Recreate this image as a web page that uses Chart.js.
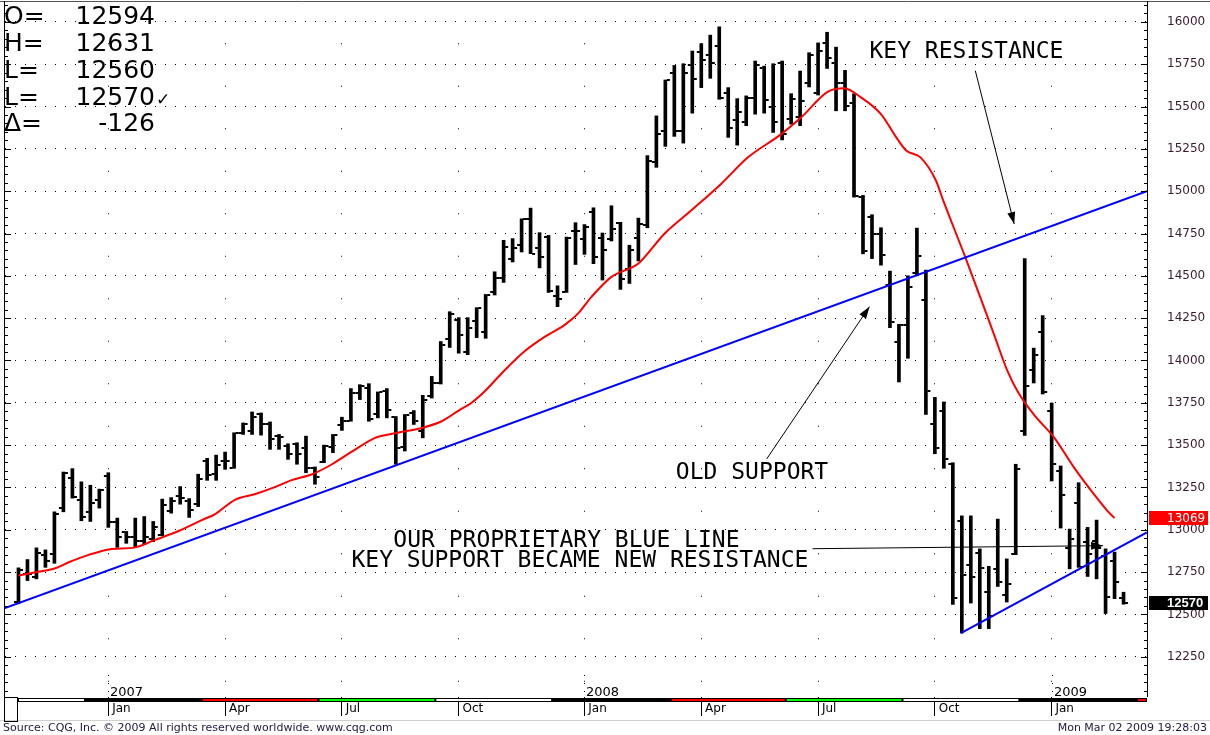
<!DOCTYPE html>
<html>
<head>
<meta charset="utf-8">
<script src="https://cdn.jsdelivr.net/npm/chart.js@4.4.1/dist/chart.umd.min.js"></script>
<style>
  html, body { margin: 0; padding: 0; background: #fff; }
  #wrap { width: 1210px; height: 735px; }
</style>
</head>
<body>
<div id="wrap"><canvas id="myChart" width="1210" height="735"></canvas></div>
<script>
// weekly bars, one per week from Oct 23 2006 to Mar 02 2009 (index = week number)
var opens = [
  12573, 12736, 12721, 12853, 12859, 13126, 13308, 13178, 13102, 13178,
  13318, 13043, 12984, 12959, 12935, 12945, 12971, 13112, 13200, 13171,
  13151, 13406, 13328, 13406, 13367, 13569, 13583, 13681, 13622, 13553,
  13494, 13504, 13481, 13365, 13402, 13488, 13618, 13645, 13808, 13837,
  13682, 13818, 13665, 13488, 13688, 13582, 13788, 13865, 14124, 14241,
  14053, 14234, 14171, 14402, 14488, 14602, 14681, 14835, 14665, 14729,
  14382, 14406, 14765, 14720, 14877, 14724, 14720, 14812, 14543, 14724,
  14800, 15171, 15357, 15700, 15357, 15743, 15822, 15802, 15857, 15582,
  15418, 15410, 15549, 15729, 15498, 15759, 15429, 15441, 15637, 15582,
  15876, 15759, 15641, 15524, 14965, 14847, 14749, 14445, 14112, 14210,
  14514, 14357, 13625, 13700, 13390, 13053, 12793, 12861, 12631, 12769,
  12612, 12857, 13583, 13946, 14171, 13700, 13347, 12890, 13161, 12926,
  12935, 12847, 12818, 12594
];
var highs = [
  12775, 12824, 12893, 12881, 13106, 13341, 13361, 13283, 13263, 13240,
  13337, 13069, 12990, 13069, 13078, 13049, 13181, 13190, 13255, 13184,
  13328, 13422, 13441, 13459, 13573, 13631, 13696, 13690, 13637, 13563,
  13508, 13514, 13553, 13371, 13500, 13563, 13665, 13834, 13857, 13863,
  13814, 13834, 13669, 13681, 13704, 13794, 13906, 14112, 14288, 14253,
  14253, 14312, 14390, 14524, 14710, 14720, 14837, 14900, 14755, 14739,
  14441, 14729, 14814, 14803, 14902, 14753, 14914, 14816, 14681, 14841,
  15210, 15445, 15657, 15743, 15753, 15828, 15872, 15922, 15971, 15612,
  15547, 15563, 15769, 15739, 15753, 15769, 15576, 15710, 15818, 15876,
  15939, 15851, 15714, 15576, 14975, 14861, 14784, 14528, 14214, 14500,
  14782, 14534, 13782, 13755, 13396, 13082, 13082, 12887, 12784, 13063,
  12828, 13387, 14602, 14073, 14265, 13749, 13377, 13004, 13278, 13014,
  13057, 12887, 12868, 12631
];
var lows = [
  12563, 12700, 12710, 12778, 12802, 13106, 13187, 13053, 13049, 13128,
  13014, 12896, 12920, 12900, 12912, 12930, 12965, 13098, 13151, 13073,
  13137, 13292, 13292, 13357, 13363, 13563, 13563, 13559, 13475, 13475,
  13416, 13387, 13337, 13269, 13396, 13455, 13587, 13641, 13769, 13641,
  13661, 13661, 13387, 13465, 13622, 13543, 13778, 13861, 14077, 14043,
  14034, 14135, 14131, 14387, 14461, 14582, 14641, 14631, 14547, 14402,
  14318, 14402, 14567, 14627, 14572, 14475, 14706, 14420, 14455, 14588,
  14784, 15141, 15265, 15324, 15284, 15461, 15612, 15667, 15543, 15318,
  15272, 15387, 15455, 15461, 15347, 15303, 15396, 15387, 15616, 15568,
  15725, 15475, 15475, 14965, 14630, 14602, 14563, 14194, 13873, 14013,
  14500, 13681, 13449, 13363, 12559, 12390, 12567, 12416, 12416, 12665,
  12573, 12853, 13557, 13867, 13802, 13288, 13010, 12769, 12778, 12724,
  12710, 12505, 12593, 12560
];
var closes = [
  12763, 12741, 12860, 12818, 13094, 13336, 13194, 13073, 13161, 13235,
  13043, 12955, 12955, 12935, 12955, 13018, 13145, 13167, 13190, 13116,
  13298, 13322, 13381, 13406, 13569, 13622, 13665, 13626, 13537, 13547,
  13449, 13449, 13363, 13312, 13496, 13559, 13641, 13808, 13847, 13655,
  13812, 13710, 13481, 13677, 13641, 13769, 13867, 14092, 14277, 14151,
  14190, 14308, 14388, 14488, 14671, 14665, 14834, 14631, 14612, 14410,
  14365, 14724, 14763, 14788, 14612, 14651, 14778, 14484, 14651, 14808,
  15181, 15337, 15657, 15357, 15696, 15661, 15778, 15755, 15553, 15376,
  15465, 15553, 15747, 15539, 15406, 15337, 15547, 15535, 15806, 15828,
  15788, 15641, 15504, 14969, 14646, 14749, 14625, 14225, 14212, 14435,
  14618, 13818, 13481, 13416, 12596, 12730, 12720, 12773, 12488, 12690,
  12681, 13361, 13847, 14034, 13812, 13389, 13206, 12947, 12778, 12859,
  12895, 12602, 12690, 12570
];

var maBars = [0, 1.9, 4.1, 5.6, 7.9, 10.1, 13, 15.2, 17.9, 20.4, 21.9, 24.1, 26.3, 28.6, 30.4,
  32.7, 34.9, 37.1, 39.7, 41.6, 45.2, 47.1, 49, 50.4, 51.9, 53.8, 56.3, 58.6, 60.8, 62.3,
  63.8, 66, 69, 71.9, 74.9, 78.2, 81.2, 84.9, 87.1, 90.1, 91.9, 93.8, 96, 97.7, 98.8,
  100.4, 102.1, 103, 105.3, 107.1, 108.6, 110.1, 111.2, 113, 115.3, 117.5, 119.7, 121.2, 122];
var maValues = [12730, 12749, 12773, 12808, 12853, 12884, 12896, 12940, 12994, 13057, 13093, 13177, 13210, 13253, 13293,
  13328, 13387, 13461, 13543, 13567, 13606, 13641, 13704, 13749, 13818, 13925, 14053, 14141, 14210, 14278,
  14377, 14494, 14573, 14749, 14887, 15043, 15200, 15337, 15435, 15588, 15608, 15553, 15455, 15318, 15241,
  15200, 15065, 14935, 14622, 14367, 14151, 13935, 13818, 13681, 13543, 13367, 13210, 13112, 13069];

// blue trend lines (bar position, value)
var longLineBars = [-1.5, 125.6];
var longLineValues = [12538, 15000];
var shortLineBars = [104.9, 125.6];
var shortLineValues = [12390, 12985];

// axes
var monthTicks = [10, 23, 36, 49, 63, 76, 89, 102, 115];
var monthLabels = ['Jan', 'Apr', 'Jul', 'Oct', 'Jan', 'Apr', 'Jul', 'Oct', 'Jan'];
var yearTicks = [10, 63, 115];
var yearLabels = ['2007', '2008', '2009'];
var priceTicks = [12250, 12500, 12750, 13000, 13250, 13500, 13750, 14000, 14250, 14500, 14750, 15000, 15250, 15500, 15750, 16000];
var quarterEdges = [-0.06, 7.4, 20.4, 33.4, 46.4, 59.4, 72.6, 85.4, 98.4, 111.4, 124.5, 125.6];
var quarterColors = ['#ffffff', '#000000', '#ff0000', '#00ff00', '#ffffff', '#000000', '#ff0000', '#00ff00', '#ffffff', '#000000', '#ff0000'];

// quote box, top left
var quoteNames = ['O=', 'H=', 'L=', 'L=', '\u0394='];
var quoteValues = ['12594', '12631', '12560', '12570', '-126'];
var maLast = 13069;
var lastPrice = 12570;

var weeks = opens.map(function (v, i) { return i; });

function tickImage(left) {
    var c = document.createElement('canvas');
    c.width = 11;
    c.height = 2;
    var g = c.getContext('2d');
    g.fillStyle = '#000';
    g.fillRect(left ? 1 : 7, 0, 3, 2);
    return c;
}

var decor = {
    id: 'decor',
    beforeDraw: function (chart) {
        var ctx = chart.ctx;
        ctx.save();
        ctx.fillStyle = '#fff';
        ctx.fillRect(0, 0, chart.width, chart.height);
        ctx.restore();
    },
    afterDraw: function (chart) {
        var ctx = chart.ctx, a = chart.chartArea;
        var xs = chart.scales.x, ys = chart.scales.y;
        function px(i) { return xs.getPixelForValue(i); }
        function py(v) { return ys.getPixelForValue(v); }

        ctx.save();
        // frame
        ctx.lineWidth = 1;
        ctx.strokeStyle = '#555';
        ctx.beginPath();
        ctx.moveTo(0, 1.5); ctx.lineTo(chart.width, 1.5);
        ctx.stroke();
        ctx.strokeStyle = '#000';
        ctx.beginPath();
        ctx.moveTo(a.left - 0.5, 1); ctx.lineTo(a.left - 0.5, 721);
        ctx.moveTo(a.right + 0.5, 1); ctx.lineTo(a.right + 0.5, a.bottom);
        ctx.stroke();
        ctx.strokeStyle = '#d0d0d0';
        ctx.beginPath();
        ctx.moveTo(0, 720.5); ctx.lineTo(chart.width, 720.5);
        ctx.stroke();

        // price ticks on both edges, every 50
        ctx.strokeStyle = '#000';
        ctx.beginPath();
        for (var v = 12050; v <= 16100; v += 50) {
            var y = Math.round(py(v)) + 0.5;
            var len = v % 250 === 0 ? 6 : 3;
            ctx.moveTo(a.right, y); ctx.lineTo(a.right - len, y);
            ctx.moveTo(a.left, y); ctx.lineTo(a.left + len, y);
        }
        ctx.stroke();

        // quarter band under the plot
        var b0 = px(quarterEdges[0]);
        ctx.fillStyle = '#000';
        ctx.fillRect(b0, a.bottom + 1, a.right - b0, 4);
        for (var q = 0; q < quarterColors.length; q++) {
            if (quarterColors[q] === '#000000') continue;
            var q0 = px(quarterEdges[q]), q1 = Math.min(px(quarterEdges[q + 1]), a.right);
            ctx.fillStyle = quarterColors[q];
            ctx.fillRect(q0 + 1, a.bottom + 2, q1 - q0 - 2, 2);
        }
        ctx.strokeStyle = '#000';
        ctx.strokeRect(a.left - 0.5, a.bottom + 0.5, 13, 24);

        // year labels
        ctx.fillStyle = '#000';
        ctx.font = '13px "DejaVu Sans"';
        ctx.textAlign = 'left';
        ctx.textBaseline = 'alphabetic';
        yearTicks.forEach(function (t, k) {
            var x = Math.round(px(t));
            [675, 683, 691].forEach(function (d) { ctx.fillRect(x, d, 1, 1); });
            ctx.fillText(yearLabels[k], x + 2, 696);
        });

        // value tags on the price axis
        function tag(value, text, bg, bold) {
            var y = Math.round(py(value));
            ctx.fillStyle = bg;
            ctx.fillRect(a.right + 2, y - 7, 59, 14);
            ctx.fillStyle = '#fff';
            ctx.font = bold ? 'bold 13px "Liberation Sans"' : '12px "DejaVu Sans"';
            ctx.textAlign = 'left';
            ctx.textBaseline = 'middle';
            ctx.fillText(text, a.right + 20, y + 0.5);
        }
        tag(maLast, String(maLast), '#ff0000', false);
        tag(lastPrice, String(lastPrice), '#000000', true);

        // quote box
        ctx.fillStyle = '#000';
        ctx.font = '25px "DejaVu Sans"';
        ctx.textBaseline = 'alphabetic';
        var base = [24, 51, 78, 104.5, 131];
        quoteNames.forEach(function (n, k) {
            ctx.textAlign = 'left';
            ctx.fillText(n, 4, base[k]);
            ctx.textAlign = 'right';
            ctx.fillText(quoteValues[k], 155, base[k]);
        });
        ctx.textAlign = 'left';
        ctx.font = '17px "DejaVu Sans"';
        ctx.fillText('\u2713', 156, base[3]);

        // notes and arrows
        function arrow(i1, v1, i2, v2) {
            var x1 = px(i1), y1 = py(v1), x2 = px(i2), y2 = py(v2);
            var ang = Math.atan2(y2 - y1, x2 - x1), L = 12, W = 4;
            ctx.beginPath();
            ctx.moveTo(x1, y1); ctx.lineTo(x2, y2);
            ctx.stroke();
            ctx.beginPath();
            ctx.moveTo(x2, y2);
            ctx.lineTo(x2 - L * Math.cos(ang) + W * Math.sin(ang), y2 - L * Math.sin(ang) - W * Math.cos(ang));
            ctx.lineTo(x2 - L * Math.cos(ang) - W * Math.sin(ang), y2 - L * Math.sin(ang) + W * Math.cos(ang));
            ctx.closePath();
            ctx.fill();
        }
        ctx.font = '23px "DejaVu Sans Mono"';
        ctx.textAlign = 'left';
        ctx.textBaseline = 'middle';
        ctx.fillStyle = '#000';
        ctx.fillText('KEY RESISTANCE', px(94.72), py(15824));
        ctx.fillText('OLD SUPPORT', px(73.17), py(13335));
        ctx.fillText('OUR PROPRIETARY BLUE LINE', px(41.72), py(12935));
        ctx.fillText('KEY SUPPORT BECAME NEW RESISTANCE', px(37.06), py(12818));
        ctx.strokeStyle = '#000';
        ctx.lineWidth = 1;
        arrow(106.5, 15712, 110.83, 14806);
        arrow(83.28, 13418, 94.72, 14318);
        arrow(88.39, 12888, 120.72, 12906);

        // footer
        ctx.font = '11px "DejaVu Sans"';
        ctx.fillStyle = '#1a1a40';
        ctx.textBaseline = 'middle';
        ctx.textAlign = 'left';
        ctx.fillText('Source: CQG, Inc. \u00a9 2009 All rights reserved worldwide. www.cqg.com', 3, 728);
        ctx.textAlign = 'right';
        ctx.fillText('Mon Mar 02 2009 19:28:03', 1207, 728);
        ctx.restore();
    }
};

Chart.defaults.font.family = '"DejaVu Sans"';

var ctx1 = document.getElementById('myChart').getContext('2d');
var myChart1 = new Chart(ctx1, {
    type: 'bar',
    data: {
        datasets: [{
            type: 'line',
            label: 'Blue line',
            data: longLineBars.map(function (b, k) { return { x: b, y: longLineValues[k] }; }),
            borderColor: '#0000ff',
            borderWidth: 2,
            pointRadius: 0
        },
        {
            type: 'line',
            label: 'Blue line 2',
            data: shortLineBars.map(function (b, k) { return { x: b, y: shortLineValues[k] }; }),
            borderColor: '#0000ff',
            borderWidth: 2,
            pointRadius: 0
        },
        {
            type: 'line',
            label: 'Average',
            data: maBars.map(function (b, k) { return { x: b, y: maValues[k] }; }),
            borderColor: '#ff0000',
            borderWidth: 2,
            pointRadius: 0,
            cubicInterpolationMode: 'monotone'
        },
        {
            type: 'scatter',
            label: 'Open',
            data: weeks.map(function (i) { return { x: i, y: opens[i] }; }),
            pointStyle: tickImage(true),
            pointRadius: 3
        },
        {
            type: 'scatter',
            label: 'Close',
            data: weeks.map(function (i) { return { x: i, y: closes[i] }; }),
            pointStyle: tickImage(false),
            pointRadius: 3
        },
        {
            type: 'bar',
            label: 'High-Low',
            data: weeks.map(function (i) { return { x: i, y: [lows[i], highs[i]] }; }),
            backgroundColor: '#000',
            borderWidth: 0,
            barThickness: 3
        }]
    },
    options: {
        responsive: false,
        animation: false,
        devicePixelRatio: 1,
        events: [],
        layout: { padding: { left: 3, top: 2, right: 0, bottom: 14 } },
        plugins: {
            legend: { display: false },
            tooltip: { enabled: false }
        },
        scales: {
            x: {
                type: 'linear',
                offset: false,
                min: -1.5,
                max: 125.611,
                afterBuildTicks: function (s) {
                    s.ticks = monthTicks.map(function (v) { return { value: v }; });
                },
                afterFit: function (s) {
                    s.height = 24;
                    s.paddingLeft = 0;
                    s.paddingRight = 0;
                },
                grid: {
                    offset: false,
                    color: '#000',
                    lineWidth: 1,
                    drawTicks: true,
                    tickLength: 19,
                    tickColor: '#000',
                    tickBorderDash: []
                },
                border: { display: false, dash: [1, 41.5], dashOffset: 4.25 },
                ticks: {
                    callback: function (v, k) { return ' ' + monthLabels[k]; },
                    align: 'start',
                    padding: -14,
                    maxRotation: 0,
                    autoSkip: false,
                    color: '#000',
                    font: { size: 12 }
                }
            },
            y: {
                position: 'right',
                min: 12012,
                max: 16100,
                afterBuildTicks: function (s) {
                    s.ticks = priceTicks.map(function (v) { return { value: v }; });
                },
                afterFit: function (s) {
                    s.width = 63;
                    s.paddingTop = 0;
                    s.paddingBottom = 0;
                },
                grid: { color: '#000', lineWidth: 1, drawTicks: false },
                border: { display: false, dash: [1, 9] },
                ticks: {
                    callback: function (v) { return String(v); },
                    padding: 20,
                    crossAlign: 'near',
                    color: '#3b1a2e',
                    font: { size: 12 }
                }
            }
        }
    },
    plugins: [decor]
});
</script>
</body>
</html>
